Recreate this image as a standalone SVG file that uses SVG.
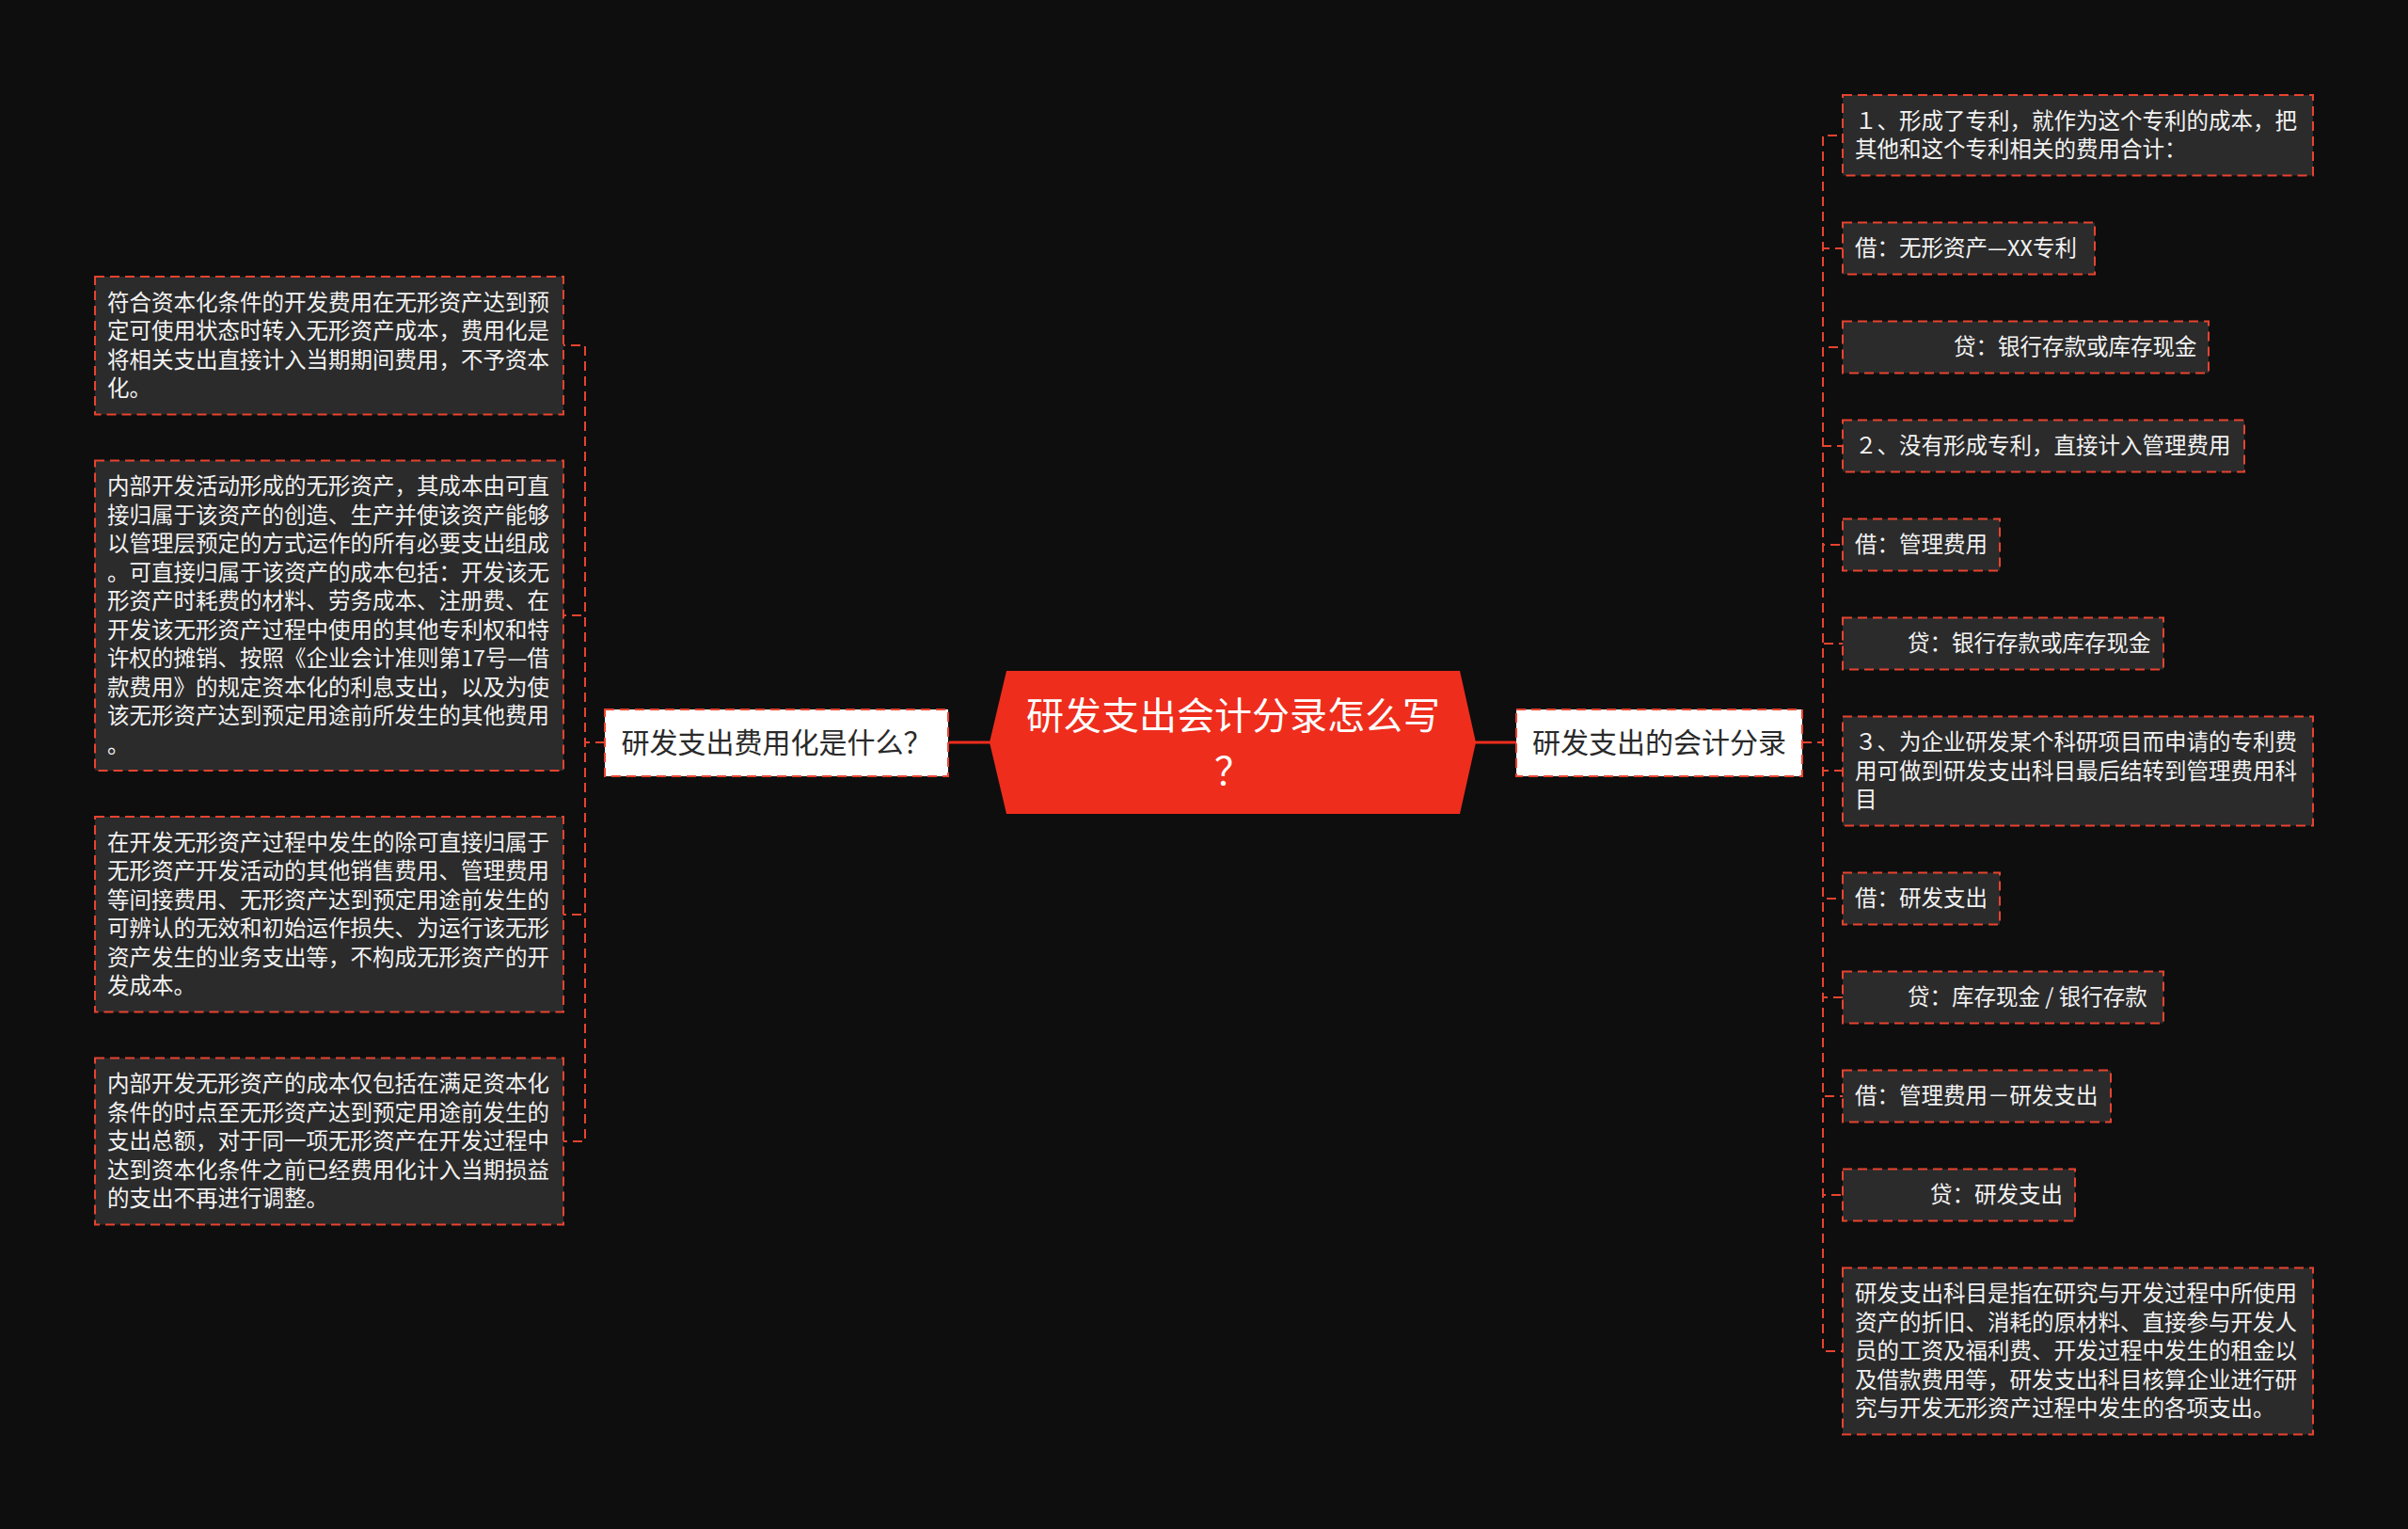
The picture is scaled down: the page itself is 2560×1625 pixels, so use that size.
<svg xmlns="http://www.w3.org/2000/svg" width="2560" height="1625" viewBox="0 0 2560 1625">
<style>
text { font-family: "Noto Sans CJK SC", "Noto Sans", sans-serif; }
.leaf rect { fill: #2b2b2b; stroke: #E8432F; stroke-width: 2; stroke-dasharray: 10 6; }
.leaf text { fill: #f2f2f2; font-size: 23.5px; }
.branch rect { fill: #ffffff; stroke: #E8432F; stroke-width: 2; stroke-dasharray: 10 6; }
.branch text { fill: #2a2a2a; font-size: 30px; text-anchor: middle; }
.conn { fill: none; stroke: #E8432F; stroke-width: 2; stroke-dasharray: 10 6; }
.main { fill: none; stroke: #EE2D1D; stroke-width: 3; }
</style>
<rect x="0" y="0" width="2560" height="1625" fill="#0e0e0e"/>

<g id="connectors">
  <line class="main" x1="1009" y1="789" x2="1053" y2="789"/>
  <line class="main" x1="1568" y1="789" x2="1612" y2="789"/>
  <path class="conn" d="M643 789 H622 V367 H599"/>
  <path class="conn" d="M643 789 H622 V654 H599"/>
  <path class="conn" d="M643 789 H622 V972 H599"/>
  <path class="conn" d="M643 789 H622 V1213 H599"/>
  <path class="conn" d="M1916 789 H1938 V144 H1959"/>
  <path class="conn" d="M1916 789 H1938 V264 H1959"/>
  <path class="conn" d="M1916 789 H1938 V369 H1959"/>
  <path class="conn" d="M1916 789 H1938 V474 H1959"/>
  <path class="conn" d="M1916 789 H1938 V579 H1959"/>
  <path class="conn" d="M1916 789 H1938 V684 H1959"/>
  <path class="conn" d="M1916 789 H1938 V819 H1959"/>
  <path class="conn" d="M1916 789 H1938 V955 H1959"/>
  <path class="conn" d="M1916 789 H1938 V1060 H1959"/>
  <path class="conn" d="M1916 789 H1938 V1165 H1959"/>
  <path class="conn" d="M1916 789 H1938 V1270 H1959"/>
  <path class="conn" d="M1916 789 H1938 V1436 H1959"/>
</g>

<g id="root">
  <polygon points="1070,713 1552,713 1569,789 1552,865 1070,865 1052,789" fill="#EE2D1D"/>
  <text fill="#ffffff" font-size="40" text-anchor="middle"><tspan x="1311" y="775">研发支出会计分录怎么写</tspan><tspan x="1311" y="834">？</tspan></text>
</g>

<g id="branch-left" class="branch">
  <rect x="643" y="754" width="365" height="71"/>
  <text x="825.5" y="800">研发支出费用化是什么？</text>
</g>
<g id="branch-right" class="branch">
  <rect x="1612" y="754" width="304" height="71"/>
  <text x="1764" y="800">研发支出的会计分录</text>
</g>

<g id="L1" class="leaf">
  <rect x="101" y="294" width="498" height="146.5"/>
  <text x="114"><tspan x="114" y="329.5">符合资本化条件的开发费用在无形资产达到预</tspan><tspan x="114" y="360">定可使用状态时转入无形资产成本，费用化是</tspan><tspan x="114" y="390.5">将相关支出直接计入当期期间费用，不予资本</tspan><tspan x="114" y="421">化。</tspan></text>
</g>
<g id="L2" class="leaf">
  <rect x="101" y="489.5" width="498" height="329.5"/>
  <text x="114"><tspan x="114" y="525">内部开发活动形成的无形资产，其成本由可直</tspan><tspan x="114" y="555.5">接归属于该资产的创造、生产并使该资产能够</tspan><tspan x="114" y="586">以管理层预定的方式运作的所有必要支出组成</tspan><tspan x="114" y="616.5">。可直接归属于该资产的成本包括：开发该无</tspan><tspan x="114" y="647">形资产时耗费的材料、劳务成本、注册费、在</tspan><tspan x="114" y="677.5">开发该无形资产过程中使用的其他专利权和特</tspan><tspan x="114" y="708">许权的摊销、按照《企业会计准则第17号—借</tspan><tspan x="114" y="738.5">款费用》的规定资本化的利息支出，以及为使</tspan><tspan x="114" y="769">该无形资产达到预定用途前所发生的其他费用</tspan><tspan x="114" y="799.5">。</tspan></text>
</g>
<g id="L3" class="leaf">
  <rect x="101" y="868" width="498" height="207.5"/>
  <text x="114"><tspan x="114" y="903.5">在开发无形资产过程中发生的除可直接归属于</tspan><tspan x="114" y="934">无形资产开发活动的其他销售费用、管理费用</tspan><tspan x="114" y="964.5">等间接费用、无形资产达到预定用途前发生的</tspan><tspan x="114" y="995">可辨认的无效和初始运作损失、为运行该无形</tspan><tspan x="114" y="1025.5">资产发生的业务支出等，不构成无形资产的开</tspan><tspan x="114" y="1056">发成本。</tspan></text>
</g>
<g id="L4" class="leaf">
  <rect x="101" y="1124.5" width="498" height="177"/>
  <text x="114"><tspan x="114" y="1160">内部开发无形资产的成本仅包括在满足资本化</tspan><tspan x="114" y="1190.5">条件的时点至无形资产达到预定用途前发生的</tspan><tspan x="114" y="1221">支出总额，对于同一项无形资产在开发过程中</tspan><tspan x="114" y="1251.5">达到资本化条件之前已经费用化计入当期损益</tspan><tspan x="114" y="1282">的支出不再进行调整。</tspan></text>
</g>

<g id="R1" class="leaf">
  <rect x="1959" y="101" width="500" height="85.5"/>
  <text x="1972"><tspan x="1972" y="136.5">１、形成了专利，就作为这个专利的成本，把</tspan><tspan x="1972" y="167">其他和这个专利相关的费用合计：</tspan></text>
</g>
<g id="R2" class="leaf">
  <rect x="1959" y="236.5" width="268" height="55"/>
  <text x="1972" y="272">借：无形资产—XX专利</text>
</g>
<g id="R3" class="leaf">
  <rect x="1959" y="341.5" width="389" height="55"/>
  <text x="2077" y="377">贷：银行存款或库存现金</text>
</g>
<g id="R4" class="leaf">
  <rect x="1959" y="446.5" width="427" height="55"/>
  <text x="1972" y="482">２、没有形成专利，直接计入管理费用</text>
</g>
<g id="R5" class="leaf">
  <rect x="1959" y="551.5" width="167" height="55"/>
  <text x="1972" y="587">借：管理费用</text>
</g>
<g id="R6" class="leaf">
  <rect x="1959" y="656.5" width="341" height="55"/>
  <text x="2028" y="692">贷：银行存款或库存现金</text>
</g>
<g id="R7" class="leaf">
  <rect x="1959" y="761.5" width="500" height="116"/>
  <text x="1972"><tspan x="1972" y="797">３、为企业研发某个科研项目而申请的专利费</tspan><tspan x="1972" y="827.5">用可做到研发支出科目最后结转到管理费用科</tspan><tspan x="1972" y="858">目</tspan></text>
</g>
<g id="R8" class="leaf">
  <rect x="1959" y="927.5" width="167" height="55"/>
  <text x="1972" y="963">借：研发支出</text>
</g>
<g id="R9" class="leaf">
  <rect x="1959" y="1032.5" width="341" height="55"/>
  <text x="2028" y="1068">贷：库存现金 / 银行存款</text>
</g>
<g id="R10" class="leaf">
  <rect x="1959" y="1137.5" width="285" height="55"/>
  <text x="1972" y="1173">借：管理费用－研发支出</text>
</g>
<g id="R11" class="leaf">
  <rect x="1959" y="1242.5" width="247" height="55"/>
  <text x="2052" y="1278">贷：研发支出</text>
</g>
<g id="R12" class="leaf">
  <rect x="1959" y="1347.5" width="500" height="177"/>
  <text x="1972"><tspan x="1972" y="1383">研发支出科目是指在研究与开发过程中所使用</tspan><tspan x="1972" y="1413.5">资产的折旧、消耗的原材料、直接参与开发人</tspan><tspan x="1972" y="1444">员的工资及福利费、开发过程中发生的租金以</tspan><tspan x="1972" y="1474.5">及借款费用等，研发支出科目核算企业进行研</tspan><tspan x="1972" y="1505">究与开发无形资产过程中发生的各项支出。</tspan></text>
</g>
</svg>
